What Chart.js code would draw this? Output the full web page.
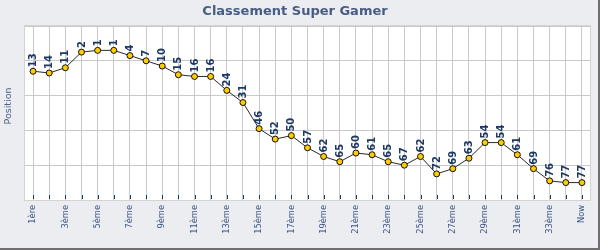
<!DOCTYPE html>
<html>
<head>
<meta charset="utf-8">
<script src="https://cdn.jsdelivr.net/npm/chart.js@4"></script>
<style>
  html, body { margin: 0; padding: 0; background: #ebedf0; }
  #wrap { width: 598px; height: 248px; border-right: 2px solid #6f6f6f; border-bottom: 2px solid #6f6f6f; }
  canvas { display: block; background: #ebedf0; }
</style>
</head>
<body>
<div id="wrap"><canvas id="chart" width="598" height="248"></canvas></div>
<script>
"use strict";

const TITLE = 'Classement Super Gamer';
const Y_TITLE = 'Position';

const LABELS = [
  '1ère', '2ème', '3ème', '4ème', '5ème', '6ème', '7ème', '8ème', '9ème', '10ème',
  '11ème', '12ème', '13ème', '14ème', '15ème', '16ème', '17ème', '18ème', '19ème', '20ème',
  '21ème', '22ème', '23ème', '24ème', '25ème', '26ème', '27ème', '28ème', '29ème', '30ème',
  '31ème', '32ème', '33ème', '34ème', 'Now'
];

const POSITIONS = [
  13, 14, 11, 2, 1, 1, 4, 7, 10, 15,
  16, 16, 24, 31, 46, 52, 50, 57, 62, 65,
  60, 61, 65, 67, 62, 72, 69, 63, 54, 54,
  61, 69, 76, 77, 77
];

const Y_GRID = [-13, 7, 27, 47, 67, 87];

const GRID = '#c9c9c9';
const NAVY = '#1d3766';
const LABEL_BLUE = '#3e5485';

(() => {
  const canvas = document.getElementById('chart');

  // white plot area, frame, inner tick marks, point labels, axis title
  const decor = {
    id: 'decor',
    beforeDraw(chart) {
      const { ctx, chartArea: a } = chart;
      ctx.save();
      ctx.fillStyle = '#ffffff';
      ctx.fillRect(a.left, a.top, a.right - a.left, a.bottom - a.top);
      ctx.restore();
    },
    afterDraw(chart) {
      const { ctx, chartArea: a } = chart;
      const x = chart.scales.x;
      ctx.save();
      ctx.strokeStyle = '#d3d3d3';
      ctx.lineWidth = 1;
      ctx.strokeRect(a.left - 0.5, a.top - 0.5, a.right - a.left + 1, a.bottom - a.top + 1);

      ctx.strokeStyle = NAVY;
      ctx.beginPath();
      for (let i = 0; i < LABELS.length; i++) {
        const px = Math.round(x.getPixelForTick(i)) + 0.5;
        ctx.moveTo(px, a.bottom - 5);
        ctx.lineTo(px, a.bottom - 1);
      }
      ctx.stroke();

      ctx.fillStyle = '#4a5e88';
      ctx.font = '9.5px "DejaVu Sans"';
      ctx.textAlign = 'center';
      ctx.textBaseline = 'middle';
      ctx.translate(9, 106);
      ctx.rotate(-Math.PI / 2);
      ctx.fillText(Y_TITLE, 0, 0);
      ctx.restore();
    },
    afterDatasetsDraw(chart) {
      const { ctx } = chart;
      const meta = chart.getDatasetMeta(0);
      ctx.save();
      ctx.fillStyle = NAVY;
      ctx.font = 'bold 10px "DejaVu Sans"';
      ctx.textAlign = 'left';
      ctx.textBaseline = 'middle';
      meta.data.forEach((pt, i) => {
        ctx.save();
        ctx.translate(pt.x + 0.5, pt.y - 4);
        ctx.rotate(-Math.PI / 2);
        ctx.fillText(String(POSITIONS[i]), 0, 0);
        ctx.restore();
      });
      ctx.restore();
    }
  };

  new Chart(canvas, {
    type: 'line',
    data: {
      labels: LABELS,
      datasets: [{
        data: POSITIONS,
        borderColor: '#2a2a2a',
        borderWidth: 1,
        pointRadius: 3,
        pointBorderWidth: 1,
        pointBorderColor: '#111111',
        pointBackgroundColor: '#ffcc00',
        tension: 0
      }]
    },
    options: {
      responsive: false,
      animation: false,
      devicePixelRatio: 1,
      layout: { padding: { left: 0, right: 8, top: 0, bottom: 0 } },
      scales: {
        x: {
          offset: true,
          grid: { color: GRID, offset: false, drawTicks: false },
          border: { display: false },
          ticks: {
            autoSkip: false,
            maxRotation: 90,
            minRotation: 90,
            padding: 5,
            color: LABEL_BLUE,
            font: { family: '"DejaVu Sans"', size: 8.3 },
            callback: (v, i) => (i % 2 === 0 ? LABELS[i] : '')
          },
          afterFit: (s) => { s.height = 48; }
        },
        y: {
          reverse: true,
          min: -13,
          max: 87,
          grid: { color: GRID, drawTicks: false },
          border: { display: false },
          ticks: { display: false },
          afterBuildTicks: (s) => { s.ticks = Y_GRID.map(v => ({ value: v })); },
          afterFit: (s) => { s.width = 25; }
        }
      },
      plugins: {
        legend: { display: false },
        tooltip: { enabled: false },
        title: {
          display: true,
          text: TITLE,
          color: '#485c83',
          font: { family: '"DejaVu Sans"', size: 13, weight: 'bold', lineHeight: 1.2 },
          padding: { top: 4, bottom: 6.4 }
        }
      }
    },
    plugins: [decor]
  });
})();
</script>
</body>
</html>
